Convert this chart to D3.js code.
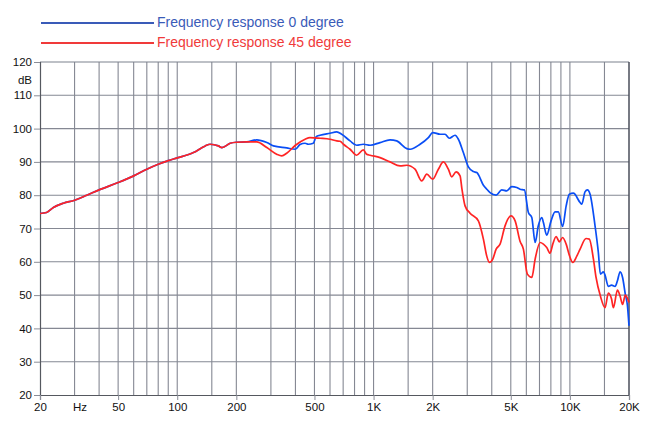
<!DOCTYPE html>
<html><head><meta charset="utf-8">
<script src="https://cdn.jsdelivr.net/npm/d3@7"></script>
<style>body{margin:0;background:#fff}svg{display:block}text{font-family:"Liberation Sans",Arial,sans-serif}</style>
</head><body><svg id="c" width="650" height="422"></svg>
<script>
const seriesNames = ["Frequency response 0 degree", "Frequency response 45 degree"];
const common = [[20,74.5],[21.6,74.8],[23.4,76.3],[26.3,77.6],[30,78.5],[34.6,80],[40,81.6],[50,83.8],[60,85.8],[70,87.8],[80,89.3],[90,90.4],[100,91.2],[121,92.8],[139,94.8],[147,95.3],[162,94.8],[169,94.3],[186,95.6],[200,95.9],[226,96]];
const response0 = common.concat([[254,96.6],[286,95.8],[309,94.8],[361,94.2],[400,93.8],[422,95.2],[448,95.6],[465,95.3],[493,95.6],[510,97.6],[534,98],[600,98.6],[649,99],[688,98.3],[759,96.3],[820,95],[887,95.3],[960,95],[1079,95.8],[1213,96.6],[1312,96.3],[1476,94],[1535,93.8],[1726,95.3],[1902,97.3],[2002,98.8],[2182,98.3],[2312,98.3],[2432,97.1],[2600,98],[2704,96.8],[2866,92.8],[3040,88.5],[3224,87.1],[3356,86.8],[3626,83],[3772,81.8],[3920,80.8],[4210,80],[4498,81.6],[4768,81.3],[5056,82.6],[5360,82.3],[5572,81.8],[5864,81.6],[6146,74.8],[6396,73.3],[6652,65.8],[6904,70.8],[7194,73.3],[7330,71.8],[7620,68],[8018,72.3],[8400,75],[8730,75],[9180,70.6],[9572,76.8],[9932,80.3],[10420,80.6],[11270,77.8],[11500,77.3],[11940,81],[12280,81.6],[12670,80.3],[13430,70.8],[13960,62.8],[14300,56.3],[14820,57],[15100,56],[15700,52.6],[16300,53],[16980,52.6],[17460,54.3],[18020,57],[18550,55.3],[19150,50.3],[19640,46.8],[20000,40.8]]);
const response45 = common.concat([[254,96],[286,94.3],[321,92.3],[341,91.8],[361,92.6],[400,95],[448,96.8],[474,97.3],[534,97.1],[600,96.8],[649,96.3],[675,96.2],[702,95.3],[759,93.8],[820,92],[887,93.6],[922,92.3],[960,92],[1079,91.3],[1213,90],[1365,88.8],[1476,89],[1626,87.8],[1760,84.3],[1866,86.3],[2002,84.8],[2138,87.8],[2268,90],[2404,87.8],[2500,85.5],[2632,87],[2758,85.8],[2820,81.8],[2924,76.8],[3100,74.6],[3418,72.3],[3626,66.8],[3772,61.7],[3890,59.8],[4046,60.8],[4210,63.8],[4408,65.3],[4674,70.8],[5012,73.8],[5260,72.3],[5572,66.2],[5796,63.8],[6072,56.3],[6396,55.3],[6652,60.8],[7048,65.8],[7330,65.3],[7620,64.3],[7926,62.6],[8180,65.3],[8510,67.6],[8832,66],[9180,67.3],[9572,65.3],[9932,62],[10350,59.8],[10840,61.7],[11270,63.8],[12080,67],[12560,66.8],[13180,60.8],[13590,55.3],[14300,49.7],[15100,46.2],[15700,50.6],[16300,48.8],[16660,46.2],[17460,51.5],[18020,49.7],[18550,47.2],[19150,50],[20000,47.8]]);
const xTickValues = [20,50,100,200,500,1000,2000,5000,10000,20000];
const xTickLabels = ["20","50","100","200","500","1K","2K","5K","10K","20K"];
const xGridValues = [30,40,50,60,70,80,90,100,150,200,300,400,500,600,700,800,900,1000,1500,2000,3000,4000,5000,6000,7000,8000,9000,10000,15000];
const yTickValues = [20,30,40,50,60,70,80,90,100,110,120];

const svg = d3.select("#c");
const L=40,R=629,T=62,B=395;
const x = d3.scaleLog().domain([20,20000]).range([L,R]);
const y = d3.scaleLinear().domain([20,120]).range([B,T]);
const gridCol = "#858893";

const g = svg.append("g");
g.selectAll("line.v").data(xGridValues).join("line")
  .attr("x1",d=>x(d)).attr("x2",d=>x(d)).attr("y1",T).attr("y2",B)
  .attr("stroke",gridCol).attr("stroke-width",1.1);
g.selectAll("line.h").data(yTickValues.slice(1,-1)).join("line")
  .attr("x1",L).attr("x2",R).attr("y1",d=>y(d)).attr("y2",d=>y(d))
  .attr("stroke",gridCol).attr("stroke-width",1.1);
// frame
g.append("line").attr("x1",L).attr("x2",R).attr("y1",T).attr("y2",T).attr("stroke","#7d818e").attr("stroke-width",1.2);
g.append("line").attr("x1",R).attr("x2",R).attr("y1",T).attr("y2",B).attr("stroke","#4a4e5a").attr("stroke-width",1.5);

// axes
const ya = svg.append("g").attr("transform",`translate(${L},0)`)
  .call(d3.axisLeft(y).tickValues(yTickValues).tickSize(6).tickPadding(2).tickFormat(d3.format("d")));
const xa = svg.append("g").attr("transform",`translate(0,${B})`)
  .call(d3.axisBottom(x).tickValues(xTickValues).tickSize(5).tickPadding(3).tickFormat((d,i)=>xTickLabels[i]));
[ya,xa].forEach(a=>{
  a.select(".domain").attr("stroke","#55585f").attr("stroke-width",1.2);
  a.selectAll(".tick line").attr("stroke","#8a8d97");
  a.selectAll("text").attr("fill","#111").style("font-size","11.5px").style("font-family","'Liberation Sans',Arial,sans-serif");
});
svg.append("text").attr("x",32).attr("y",79.5).attr("dy","0.35em").attr("text-anchor","end").attr("font-size",11.5).attr("fill","#111").text("dB");
svg.append("text").attr("x",80).attr("y",B+8).attr("dy","0.71em").attr("text-anchor","middle").attr("font-size",11.5).attr("fill","#111").text("Hz");

// curves
const line = d3.line().x(d=>x(d[0])).y(d=>y(d[1])).curve(d3.curveMonotoneX);
const plotCols = ["#0a4ef5","#ff2424"];
svg.append("defs").append("clipPath").attr("id","clip").append("rect").attr("x",L).attr("y",T).attr("width",R-L+1).attr("height",B-T);
const pg = svg.append("g").attr("clip-path","url(#clip)");
[response0,response45].forEach((s,i)=>{
  pg.append("path").datum(s).attr("d",line).attr("fill","none").attr("stroke",plotCols[i]).attr("stroke-width",1.7).attr("stroke-linejoin","round");
});

// legend
const legCols = ["#3a5bb8","#f03a3a"];
seriesNames.forEach((n,i)=>{
  const yy = 23 + i*20;
  svg.append("line").attr("x1",41).attr("x2",154).attr("y1",yy).attr("y2",yy).attr("stroke",legCols[i]).attr("stroke-width",2);
  svg.append("text").attr("x",157).attr("y",yy).attr("dy","0.3em").attr("font-size",14).attr("fill",legCols[i]).text(n);
});
</script></body></html>
